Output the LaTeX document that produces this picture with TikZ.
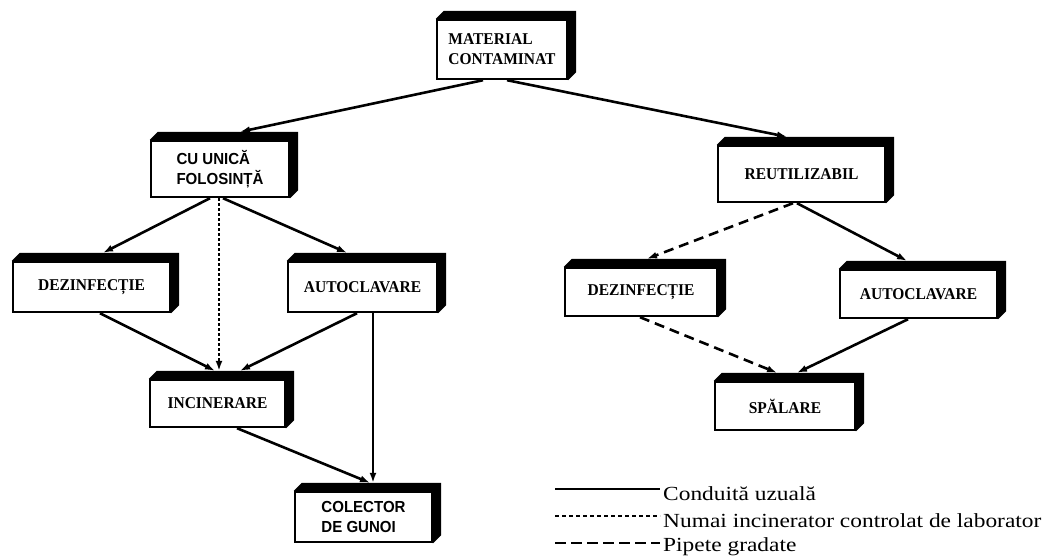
\documentclass[tikz,border=0pt]{standalone}
\usepackage{fontspec}
\setmainfont{Liberation Serif}
\newfontfamily\boxserif[FakeStretch=0.94]{Liberation Serif}
\newfontfamily\boxsans[FakeStretch=0.94]{Liberation Sans}
\newfontfamily\legendfont[FakeStretch=1.17]{Liberation Serif}
\usetikzlibrary{arrows.meta,backgrounds}
\begin{document}
\begin{tikzpicture}[x=1pt,y=-1pt,
  box/.style={draw=black, line width=2.4pt, fill=white, inner sep=0pt, align=left,
     font=\boxserif\bfseries\fontsize{16.5}{20}\selectfont},
  sansbox/.style={box, font=\boxsans\bfseries\fontsize{16}{20}\selectfont},
  conn/.style={line width=2.6pt, -{Latex[length=10pt,width=7pt]}},
  dottedconn/.style={conn, dash pattern=on 3pt off 2pt},
  dashedconn/.style={conn, dash pattern=on 10pt off 6pt},
  legline/.style={line width=2.4pt},
  legtext/.style={anchor=base west, inner sep=0pt, font=\legendfont\fontsize{20}{24}\selectfont}
]
\useasboundingbox (0,0) rectangle (1046,557);
\clip (0,0) rectangle (1046,557);

% boxes
\node[box, minimum width=130pt, minimum height=59pt] (mat) at (502,49.5) {MATERIAL\\CONTAMINAT};
\node[sansbox, minimum width=138pt, minimum height=56pt] (cu) at (220,169) {CU UNICĂ\\FOLOSINȚĂ};
\node[box, minimum width=157pt, minimum height=50pt] (dezL) at (91.5,287) {DEZINFECȚIE};
\node[box, minimum width=149pt, minimum height=50pt] (autoL) at (362.5,287) {AUTOCLAVARE};
\node[box, minimum width=135pt, minimum height=47pt] (inc) at (217.5,403.5) {INCINERARE};
\node[sansbox, minimum width=137pt, minimum height=50pt] (col) at (363.5,517) {COLECTOR\\DE GUNOI};
\node[box, minimum width=167pt, minimum height=56pt] (reut) at (801.5,174) {REUTILIZABIL};
\node[box, minimum width=152pt, minimum height=48pt] (dezR) at (641,292) {DEZINFECȚIE};
\node[box, minimum width=157pt, minimum height=48pt] (autoR) at (918.5,294) {AUTOCLAVARE};
\node[box, minimum width=140pt, minimum height=48pt] (spal) at (785,406) {SPĂLARE};

% 3D extrusion of the boxes
\begin{scope}[on background layer]
\foreach \n in {mat,cu,dezL,autoL,inc,col,reut,dezR,autoR,spal}{
  \fill (\n.north west) -- ([shift={(8pt,8pt)}]\n.north west) -- ([shift={(8pt,8pt)}]\n.north east)
     -- ([shift={(8pt,8pt)}]\n.south east) -- (\n.south east) -- cycle;
}
\end{scope}

% connectors
\draw[conn] ([xshift=-19pt]mat.south) -- ([xshift=20pt,yshift=8pt]cu.north);
\draw[conn] ([xshift=5pt]mat.south) -- ([xshift=-14.5pt,yshift=8pt]reut.north);
\draw[conn] ([xshift=-10pt]cu.south) -- ([xshift=11.5pt,yshift=8pt]dezL.north);
\draw[dottedconn] ([xshift=-1pt]cu.south) -- ([xshift=1.5pt,yshift=8pt]inc.north);
\draw[conn] ([xshift=3pt]cu.south) -- ([xshift=-15.5pt,yshift=8pt]autoL.north);
\draw[conn] ([xshift=8.5pt]dezL.south) -- ([xshift=-2.5pt,yshift=8pt]inc.north);
\draw[conn] ([xshift=-5.5pt]autoL.south) -- ([xshift=22.5pt,yshift=8pt]inc.north);
\draw[conn] ([xshift=10.5pt]autoL.south) -- ([xshift=9.5pt,yshift=8pt]col.north);
\draw[conn] ([xshift=19.5pt]inc.south) -- ([xshift=6.5pt,yshift=8pt]col.north);
\draw[dashedconn] ([xshift=-8.5pt]reut.south) -- ([xshift=6pt,yshift=8pt]dezR.north);
\draw[conn] ([xshift=-4.5pt]reut.south) -- ([xshift=-11.5pt,yshift=8pt]autoR.north);
\draw[dashedconn] ([xshift=-1pt]dezR.south) -- ([xshift=-8pt,yshift=8pt]spal.north);
\draw[conn] ([xshift=-10.5pt]autoR.south) -- ([xshift=12pt,yshift=8pt]spal.north);

% legend
\coordinate (la1) at (555,489); \coordinate (lb1) at (660,489);
\coordinate (la2) at (555,516);   \coordinate (lb2) at (660,516);
\coordinate (la3) at (555,543);   \coordinate (lb3) at (660,543);
\draw[legline] (la1) -- (lb1);
\draw[legline, dash pattern=on 4pt off 3pt] (la2) -- (lb2);
\draw[legline, dash pattern=on 11pt off 5pt] (la3) -- (lb3);
\node[legtext] (t1) at (663,500) {Conduită uzuală};
\node[legtext] (t2) at (663,527) {Numai incinerator controlat de laborator};
\node[legtext] (t3) at (663,551.5) {Pipete gradate};
\end{tikzpicture}
\end{document}
